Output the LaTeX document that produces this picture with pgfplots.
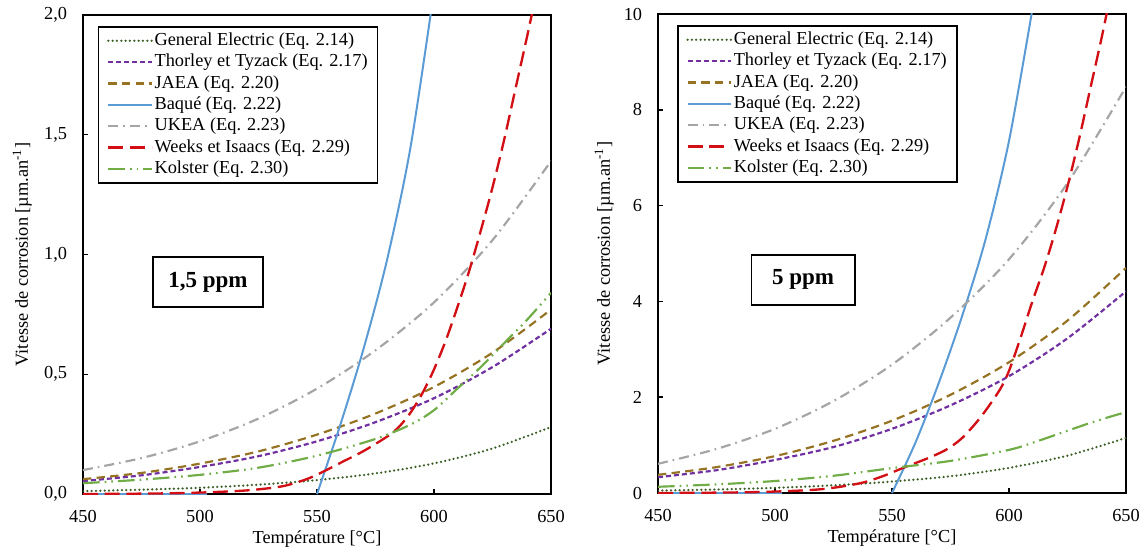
\documentclass[border=0pt]{standalone}
\usepackage{pgfplots}
\pgfplotsset{compat=1.18}
\usepackage{fontspec}
\setmainfont{Liberation Serif}
\definecolor{geC}{RGB}{60,95,40}
\definecolor{thC}{RGB}{112,48,160}
\definecolor{jaC}{RGB}{150,115,35}
\definecolor{baC}{RGB}{91,155,213}
\definecolor{ukC}{RGB}{165,165,165}
\definecolor{weC}{RGB}{210,15,20}
\definecolor{koC}{RGB}{112,173,71}
\pgfplotsset{
  ge/.style={color=geC, line width=1.5pt, line cap=round, dash pattern=on 0pt off 2.6pt},
  th/.style={color=thC, line width=1.3pt, dash pattern=on 3pt off 1.8pt},
  ja/.style={color=jaC, line width=1.3pt, dash pattern=on 5pt off 3.2pt},
  ba/.style={color=baC, line width=1.2pt},
  uk/.style={color=ukC, line width=1.3pt, dash pattern=on 6pt off 3pt on 1pt off 3pt},
  we/.style={color=weC, line width=1.4pt, dash pattern=on 9pt off 4pt},
  ko/.style={color=koC, line width=1.3pt, dash pattern=on 10pt off 3pt on 1pt off 3pt on 1pt off 3pt},
  myaxis/.style={
    scale only axis, width=280.8pt, height=287.4pt,
    font=\fontsize{11}{13}\selectfont,
    xmin=450, xmax=650, ymin=0,
    xtick={450,500,...,650},
    tick align=inside, xtick pos=left, ytick pos=left,
    major tick length=3pt,
    axis line style={line width=0.9pt},
    every tick/.style={black, line width=0.9pt},
    /pgf/number format/assume math mode=true,
    x tick label style={yshift=-6.5pt},
    y tick label style={xshift=-6pt},
    xlabel={Température [°C]},
    ylabel={Vitesse de corrosion [µm.an\textsuperscript{-1}]},
    every axis x label/.style={at={(axis description cs:0.5,-0.095)}, anchor=center},
    legend cell align=left,
    legend image code/.code={\draw[##1] (0pt,0pt) -- (26pt,0pt);},
    legend style={draw=black, line width=0.9pt, font=\fontsize{11}{13}\selectfont,
      row sep=0pt, inner xsep=5pt, inner ysep=2pt,
      nodes={inner sep=1pt, text height=8.2pt, text depth=2.6pt, line width=0.9pt}},
  },
}
\begin{document}
\begin{tikzpicture}
\begin{axis}[myaxis, ymax=2, ytick={0,0.5,...,2},
  yticklabel style={/pgf/number format/.cd, fixed, fixed zerofill, precision=1, use comma},
  every axis y label/.style={at={(axis description cs:-0.130,0.5)}, rotate=90, anchor=center},
  legend style={at={(0.032,0.977)}, anchor=north west}]
\addplot[ge, smooth] coordinates {(450,0.012)(475,0.018)(500,0.026)(525,0.039)(550,0.058)(575,0.086)(600,0.128)(625,0.19)(650,0.28)};
\addlegendentry{General Electric (Eq. 2.14)}
\addplot[th, smooth] coordinates {(450,0.054)(475,0.078)(500,0.113)(525,0.158)(550,0.22)(575,0.30)(600,0.40)(625,0.53)(650,0.69)};
\addlegendentry{Thorley et Tyzack (Eq. 2.17)}
\addplot[ja, smooth] coordinates {(450,0.062)(475,0.088)(500,0.127)(525,0.178)(550,0.248)(575,0.336)(600,0.447)(625,0.59)(650,0.77)};
\addlegendentry{JAEA (Eq. 2.20)}
\addplot[ba, forget plot] coordinates {(450,0)(503,0)};
\addplot[ba, smooth] coordinates {(550,0)(560,0.29)(570,0.61)(580,0.98)(590,1.45)(600,2.1)};
\addlegendentry{Baqué (Eq. 2.22)}
\addplot[uk, smooth] coordinates {(450,0.10)(475,0.15)(500,0.22)(525,0.315)(550,0.44)(575,0.60)(600,0.80)(625,1.06)(650,1.39)};
\addlegendentry{UKEA (Eq. 2.23)}
\addplot[we, smooth] coordinates {(450,0.0)(480,0.002)(500,0.006)(520,0.015)(535,0.032)(545,0.06)(552,0.09)(560,0.13)(570,0.18)(580,0.24)(585,0.28)(590,0.34)(595,0.42)(600,0.52)(605,0.64)(610,0.78)(615,0.93)(620,1.10)(625,1.28)(630,1.48)(635,1.70)(640,1.92)(645,2.15)};
\addlegendentry{Weeks et Isaacs (Eq. 2.29)}
\addplot[ko, smooth] coordinates {(450,0.045)(475,0.06)(500,0.08)(525,0.11)(550,0.16)(575,0.23)(590,0.29)(600,0.35)(610,0.44)(620,0.53)(630,0.63)(640,0.73)(650,0.84)};
\addlegendentry{Kolster (Eq. 2.30)}
\node[draw=black, line width=0.9pt, fill=white, minimum width=66pt, minimum height=30pt, inner sep=0pt,
  font=\fontsize{13.8}{16}\selectfont\bfseries] at (axis cs:503.4,0.885) {1,5 ppm};
\end{axis}
\begin{axis}[myaxis, at={(345pt,0.6pt)}, ymax=10, ytick={0,2,...,10},
  every axis y label/.style={at={(axis description cs:-0.115,0.5)}, rotate=90, anchor=center},
  legend style={at={(0.041,0.977)}, anchor=north west}]
\addplot[ge, smooth] coordinates {(450,0.05)(475,0.073)(500,0.108)(525,0.16)(550,0.24)(575,0.35)(600,0.525)(625,0.78)(650,1.15)};
\addlegendentry{General Electric (Eq. 2.14)}
\addplot[th, smooth] coordinates {(450,0.33)(475,0.476)(500,0.69)(525,0.96)(550,1.34)(575,1.83)(600,2.44)(625,3.23)(650,4.21)};
\addlegendentry{Thorley et Tyzack (Eq. 2.17)}
\addplot[ja, smooth] coordinates {(450,0.38)(475,0.54)(500,0.77)(525,1.09)(550,1.51)(575,2.05)(600,2.73)(625,3.6)(650,4.7)};
\addlegendentry{JAEA (Eq. 2.20)}
\addplot[ba, forget plot] coordinates {(450,0)(503,0)};
\addplot[ba, smooth] coordinates {(550,0)(560,1.05)(570,2.3)(580,3.7)(590,5.3)(600,7.35)(610,10.1)};
\addlegendentry{Baqué (Eq. 2.22)}
\addplot[uk, smooth] coordinates {(450,0.61)(475,0.92)(500,1.34)(525,1.92)(550,2.68)(575,3.66)(600,4.88)(625,6.47)(650,8.48)};
\addlegendentry{UKEA (Eq. 2.23)}
\addplot[we, smooth] coordinates {(450,0)(480,0.01)(500,0.03)(520,0.08)(536,0.2)(546,0.35)(556,0.55)(565,0.72)(573,0.9)(580,1.15)(588,1.59)(596,2.15)(600,2.55)(605,3.25)(610,4.0)(615,4.7)(620,5.5)(625,6.4)(630,7.4)(635,8.5)(640,9.6)(645,10.8)};
\addlegendentry{Weeks et Isaacs (Eq. 2.29)}
\addplot[ko, smooth] coordinates {(450,0.13)(475,0.18)(500,0.25)(525,0.36)(550,0.52)(575,0.67)(600,0.90)(612,1.08)(625,1.30)(637,1.50)(650,1.69)};
\addlegendentry{Kolster (Eq. 2.30)}
\node[draw=black, line width=0.9pt, fill=white, minimum width=62pt, minimum height=30pt, inner sep=0pt,
  font=\fontsize{13.8}{16}\selectfont\bfseries] at (axis cs:512,4.45) {5 ppm};
\end{axis}
\pgfresetboundingbox
\path[use as bounding box] (-49.8pt,-36pt) rectangle (638.4pt,296.4pt);
\end{tikzpicture}
\end{document}
